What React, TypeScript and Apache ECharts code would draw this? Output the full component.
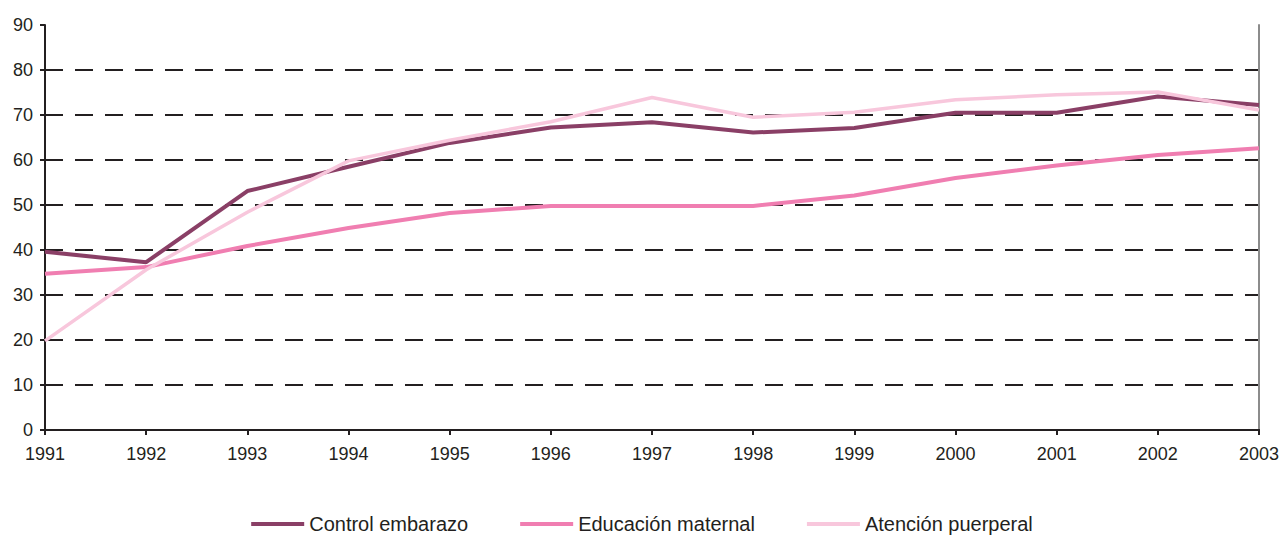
import React, { useEffect, useRef } from "react";
import * as echarts from "echarts";

const years = ["1991", "1992", "1993", "1994", "1995", "1996", "1997", "1998", "1999", "2000", "2001", "2002", "2003"];
const controlEmbarazo = [39.6, 37.3, 53.1, 58.5, 63.8, 67.2, 68.4, 66.1, 67.1, 70.5, 70.5, 74.1, 72.2];
const educacionMaternal = [34.7, 36.2, 40.9, 44.9, 48.2, 49.8, 49.8, 49.8, 52.1, 56.0, 58.8, 61.1, 62.6];
const atencionPuerperal = [19.8, 35.6, 48.4, 59.8, 64.4, 68.5, 73.9, 69.5, 70.6, 73.4, 74.5, 75.1, 71.1];
const seriesNames = ["Control embarazo", "Educación maternal", "Atención puerperal"];
const colors = ["#8a3f66", "#f07eb1", "#f8c7dc"];

export default function App() {
  const ref = useRef<HTMLDivElement>(null);
  useEffect(() => {
    const chart = echarts.init(ref.current!, null, { renderer: "svg" });
    const font = "Liberation Sans, Arial, Helvetica, sans-serif";
    const mk = (name: string, data: number[], color: string, width: number) => ({
      name,
      type: "line",
      data,
      symbol: "none",
      lineStyle: { color, width },
      itemStyle: { color },
      z: 3,
    });
    chart.setOption({
      animation: false,
      backgroundColor: "#ffffff",
      grid: { left: 45, right: 25, top: 25, bottom: 106, containLabel: false },
      legend: {
        top: 514,
        left: "center",
        padding: 0,
        icon: "rect",
        itemWidth: 53,
        itemHeight: 4,
        itemGap: 52,
        itemTextGap: 6,
        textStyle: { fontFamily: font, fontSize: 20, lineHeight: 20, color: "#231f20" },
        data: seriesNames,
      },
      xAxis: [
        {
          type: "category",
          data: years,
          boundaryGap: false,
          axisLine: { show: true, lineStyle: { color: "#231f20", width: 2 } },
          axisTick: { show: true, length: 5, alignWithLabel: true, lineStyle: { color: "#231f20", width: 2 } },
          axisLabel: { fontFamily: font, fontSize: 18, color: "#231f20", margin: 15 },
          splitLine: { show: false },
        },
        {
          type: "category",
          data: years,
          position: "top",
          boundaryGap: false,
          axisLine: { show: true, lineStyle: { color: "#231f20", width: 2 } },
          axisTick: { show: false },
          axisLabel: { show: false },
        },
      ],
      yAxis: [
        {
          type: "value",
          min: 0,
          max: 90,
          interval: 10,
          axisLine: { show: true, lineStyle: { color: "#231f20", width: 2 } },
          axisTick: { show: true, length: 5, lineStyle: { color: "#231f20", width: 2 } },
          axisLabel: { fontFamily: font, fontSize: 18, color: "#231f20", margin: 12 },
          splitLine: {
            show: true,
            showMinLine: false,
            showMaxLine: false,
            lineStyle: { color: "#231f20", width: 2, type: [18, 12] },
          },
        },
        {
          type: "value",
          min: 0,
          max: 90,
          interval: 10,
          position: "right",
          axisLine: { show: true, lineStyle: { color: "#8c8c8c", width: 2 } },
          axisTick: { show: false },
          axisLabel: { show: false },
          splitLine: { show: false },
        },
      ],
      series: [
        mk(seriesNames[0], controlEmbarazo, colors[0], 4),
        mk(seriesNames[1], educacionMaternal, colors[1], 4),
        mk(seriesNames[2], atencionPuerperal, colors[2], 3.5),
      ],
    });
    return () => chart.dispose();
  }, []);
  return <div ref={ref} style={{ position: "fixed", left: 0, top: 0, width: 1284, height: 536 }} />;
}
